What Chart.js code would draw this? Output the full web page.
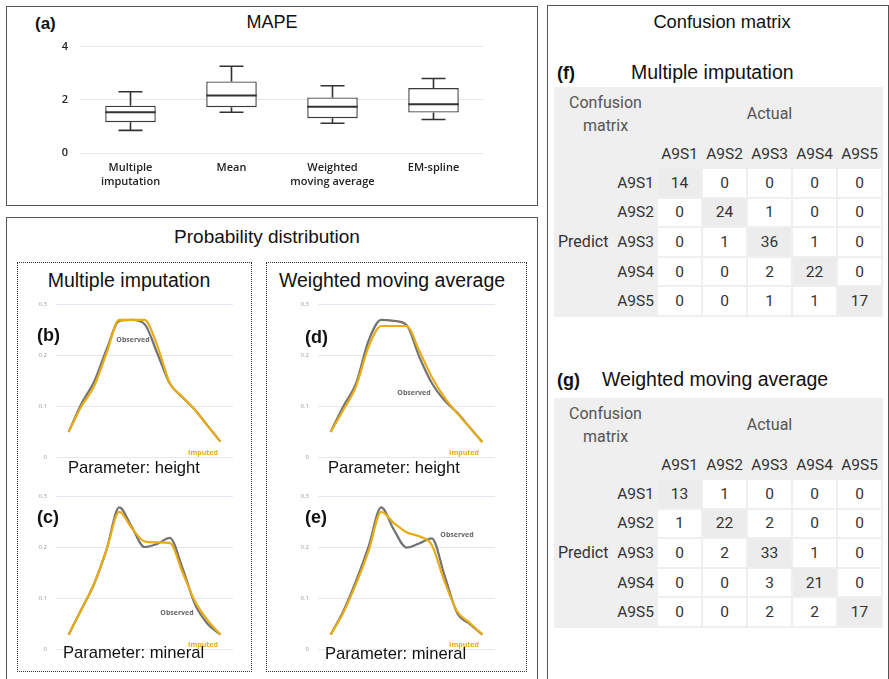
<!DOCTYPE html>
<html>
<head>
<meta charset="utf-8">
<script src="https://cdn.jsdelivr.net/npm/chart.js@4.4.1/dist/chart.umd.min.js"></script>
<style>
  html, body { margin: 0; padding: 0; background: #fff; }
  body { width: 889px; height: 679px; position: relative; overflow: hidden; font-family: "Liberation Sans", Arial, sans-serif; color: #111; }
  .panel { position: absolute; border: 1.5px solid #555; box-sizing: border-box; }
  .dotted { position: absolute; border: 1px dotted #333; box-sizing: border-box; }
  .t { position: absolute; white-space: nowrap; line-height: 1; }
  .c { transform: translate(-50%, -50%); }
  .l { transform: translateY(-50%); }
  .b { font-weight: bold; }
  canvas { position: absolute; }
  .lbl { position: absolute; white-space: nowrap; font-family: "Open Sans", sans-serif; font-weight: 700; font-size: 7px; transform: translate(-50%, -50%); }
  .obs { color: #666; }
  .imp { color: #e6aa14; }
  table.cm { position: absolute; left: 554px; width: 328px; border-collapse: collapse; background: #efefef;
             font-family: Roboto, "Noto Sans", sans-serif; font-size: 15.5px; font-weight: 400; color: #333; table-layout: fixed; }
  table.cm td { padding: 0; text-align: center; }
  table.cm td.cell { background: #fff; border: 2px solid #efefef; }
  table.cm td.diag { background: #ececec; }
  table.cm td.rl { text-align: right; padding-right: 2px; }
  table.cm td.pr { text-align: left; padding-left: 4px; font-size: 16px; }
  table.cm td.hd { color: #555; line-height: 23px; font-size: 16px; }
</style>
</head>
<body>
<!-- panneaux -->
<div class="panel" style="left:6px;top:6px;width:532px;height:200px;"></div>
<div class="panel" style="left:6px;top:217px;width:532px;height:464px;"></div>
<div class="panel" style="left:547px;top:5px;width:342px;height:676px;"></div>
<div class="dotted" style="left:17px;top:262px;width:235px;height:410px;"></div>
<div class="dotted" style="left:266px;top:262px;width:261px;height:410px;"></div>

<!-- (a) MAPE -->
<div class="t b" style="left:35px;top:23px;font-size:17px;transform:translateY(-50%);">(a)</div>
<div class="t c" style="left:272px;top:22px;font-size:18px;">MAPE</div>
<canvas id="graphMape" width="450" height="165" style="left:40px;top:28px;width:450px;height:165px;"></canvas>

<!-- Probability distribution -->
<div class="t c" style="left:267px;top:236px;font-size:19px;">Probability distribution</div>
<div class="t c" style="left:129px;top:281px;font-size:19.5px;">Multiple imputation</div>
<div class="t c" style="left:392px;top:281px;font-size:19.5px;">Weighted moving average</div>

<canvas id="graphB" width="215" height="178" style="left:20px;top:292px;width:215px;height:178px;"></canvas>
<canvas id="graphD" width="215" height="178" style="left:282px;top:292px;width:215px;height:178px;"></canvas>
<canvas id="graphC" width="215" height="178" style="left:20px;top:484px;width:215px;height:178px;"></canvas>
<canvas id="graphE" width="215" height="178" style="left:282px;top:484px;width:215px;height:178px;"></canvas>

<div class="t b l" style="left:37px;top:335px;font-size:18px;">(b)</div>
<div class="t b l" style="left:305px;top:337px;font-size:18px;">(d)</div>
<div class="t b l" style="left:37px;top:517px;font-size:18px;">(c)</div>
<div class="t b l" style="left:305px;top:517px;font-size:18px;">(e)</div>

<div class="lbl obs" style="left:133px;top:339px;">Observed</div>
<div class="lbl imp" style="left:203px;top:452px;">Imputed</div>
<div class="lbl obs" style="left:414px;top:392px;">Observed</div>
<div class="lbl imp" style="left:464px;top:452px;">Imputed</div>
<div class="lbl obs" style="left:177px;top:612px;">Observed</div>
<div class="lbl imp" style="left:203px;top:644px;">Imputed</div>
<div class="lbl obs" style="left:457px;top:534px;">Observed</div>
<div class="lbl imp" style="left:464px;top:644px;">Imputed</div>

<div class="t l" style="left:68px;top:468px;font-size:16.6px;">Parameter: height</div>
<div class="t l" style="left:328px;top:468px;font-size:16.6px;">Parameter: height</div>
<div class="t l" style="left:63px;top:653px;font-size:16.6px;">Parameter: mineral</div>
<div class="t l" style="left:325px;top:654px;font-size:16.6px;">Parameter: mineral</div>

<!-- Confusion matrix -->
<div class="t c" style="left:722px;top:22px;font-size:18.3px;">Confusion matrix</div>
<div class="t b l" style="left:557px;top:73px;font-size:18px;">(f)</div>
<div class="t l" style="left:631px;top:73px;font-size:19.5px;">Multiple imputation</div>
<div class="t b l" style="left:557px;top:380px;font-size:18px;">(g)</div>
<div class="t l" style="left:602px;top:380px;font-size:19.5px;">Weighted moving average</div>

<table class="cm" id="tableMI" style="top:87px;"></table>
<table class="cm" id="tableWMA" style="top:398px;"></table>

<script>
// ============================================
// Donnees
// ============================================
var methodes = [["Multiple", "imputation"], "Mean", ["Weighted", "moving average"], "EM-spline"];
var mapeMin = [0.85, 1.53, 1.12, 1.26];
var mapeQ1 = [1.16, 1.72, 1.31, 1.52];
var mapeMed = [1.53, 2.16, 1.74, 1.83];
var mapeQ3 = [1.78, 2.69, 2.09, 2.44];
var mapeMax = [2.30, 3.26, 2.53, 2.80];

// Densites (13 points, meme axe x)
var hauteurObsMI = [0.05, 0.105, 0.148, 0.212, 0.268, 0.27, 0.262, 0.205, 0.145, 0.118, 0.093, 0.062, 0.031];
var hauteurImpMI = [0.05, 0.10, 0.139, 0.205, 0.27, 0.27, 0.27, 0.22, 0.146, 0.119, 0.093, 0.062, 0.031];
var hauteurObsWMA = [0.05, 0.10, 0.145, 0.229, 0.27, 0.268, 0.26, 0.198, 0.146, 0.112, 0.088, 0.059, 0.03];
var hauteurImpWMA = [0.05, 0.093, 0.139, 0.217, 0.258, 0.258, 0.258, 0.21, 0.158, 0.118, 0.087, 0.059, 0.03];
var mineralObsMI = [0.029, 0.078, 0.128, 0.196, 0.279, 0.24, 0.201, 0.207, 0.219, 0.16, 0.088, 0.05, 0.029];
var mineralImpMI = [0.029, 0.078, 0.128, 0.196, 0.27, 0.238, 0.212, 0.21, 0.209, 0.152, 0.094, 0.057, 0.029];
var mineralObsWMA = [0.029, 0.075, 0.134, 0.202, 0.279, 0.235, 0.2, 0.208, 0.218, 0.146, 0.072, 0.05, 0.029];
var mineralImpWMA = [0.029, 0.072, 0.128, 0.193, 0.27, 0.248, 0.23, 0.222, 0.205, 0.134, 0.075, 0.052, 0.029];
var densiteTicks = [0, 0.1, 0.2, 0.3];

// Matrices de confusion
var classes = ["A9S1", "A9S2", "A9S3", "A9S4", "A9S5"];
var confusionMI = [
    [14, 0, 0, 0, 0],
    [0, 24, 1, 0, 0],
    [0, 1, 36, 1, 0],
    [0, 0, 2, 22, 0],
    [0, 0, 1, 1, 17]
];
var confusionWMA = [
    [13, 1, 0, 0, 0],
    [1, 22, 2, 0, 0],
    [0, 2, 33, 1, 0],
    [0, 0, 3, 21, 0],
    [0, 0, 2, 2, 17]
];

// ============================================
// Boxplot MAPE
// ============================================
var moustaches = {
    id: "moustaches",
    afterDatasetsDraw: function (chart) {
        var ctx = chart.ctx;
        var y = chart.scales.y;
        var meta = chart.getDatasetMeta(0);
        ctx.save();
        ctx.strokeStyle = "#333";
        meta.data.forEach(function (bar, i) {
            var x = bar.x;
            var demi = bar.width / 2;
            // mediane
            ctx.lineWidth = 2;
            ctx.beginPath();
            ctx.moveTo(x - demi, y.getPixelForValue(mapeMed[i]));
            ctx.lineTo(x + demi, y.getPixelForValue(mapeMed[i]));
            ctx.stroke();
            // moustaches
            ctx.lineWidth = 1.6;
            ctx.beginPath();
            ctx.moveTo(x, y.getPixelForValue(mapeQ3[i]));
            ctx.lineTo(x, y.getPixelForValue(mapeMax[i]));
            ctx.moveTo(x - 12, y.getPixelForValue(mapeMax[i]));
            ctx.lineTo(x + 12, y.getPixelForValue(mapeMax[i]));
            ctx.moveTo(x, y.getPixelForValue(mapeQ1[i]));
            ctx.lineTo(x, y.getPixelForValue(mapeMin[i]));
            ctx.moveTo(x - 12, y.getPixelForValue(mapeMin[i]));
            ctx.lineTo(x + 12, y.getPixelForValue(mapeMin[i]));
            ctx.stroke();
        });
        ctx.restore();
    }
};

new Chart(document.getElementById("graphMape"), {
    type: "bar",
    data: {
        labels: methodes,
        datasets: [{
            data: mapeQ1.map(function (q, i) { return [q, mapeQ3[i]]; }),
            backgroundColor: "#fff",
            borderColor: "#3a3a3a",
            borderWidth: 1.4,
            borderSkipped: false,
            barPercentage: 0.5,
            categoryPercentage: 1
        }]
    },
    options: {
        responsive: false,
        animation: false,
        layout: { padding: { top: 0, right: 6 } },
        plugins: { legend: { display: false }, tooltip: { enabled: false } },
        scales: {
            x: {
                grid: { display: false },
                border: { display: false },
                ticks: { color: "#222", padding: 0, font: { family: "Open Sans", size: 11, weight: 600, lineHeight: 1.25 } },
                afterFit: function (s) { s.height = 40; }
            },
            y: {
                min: 0, max: 4,
                grid: { color: "#e8e8ee", drawTicks: false },
                border: { display: false },
                ticks: { stepSize: 2, color: "#222", padding: 12, font: { family: "Open Sans", size: 11, weight: 600 } },
                afterFit: function (s) { s.width = 40; }
            }
        }
    },
    plugins: [moustaches]
});

// ============================================
// Courbes de densite
// ============================================
function points(valeurs) {
    return valeurs.map(function (v, i) { return { x: i, y: v }; });
}

function graphDensite(id, observe, impute) {
    new Chart(document.getElementById(id), {
        type: "line",
        data: {
            datasets: [
                {
                    label: "Imputed",
                    data: points(impute),
                    borderColor: "rgb(232, 172, 22)",
                    borderWidth: 2.2,
                    pointRadius: 0,
                    cubicInterpolationMode: "monotone"
                },
                {
                    label: "Observed",
                    data: points(observe),
                    borderColor: "rgb(115, 115, 115)",
                    borderWidth: 2.2,
                    pointRadius: 0,
                    cubicInterpolationMode: "monotone"
                }
            ]
        },
        options: {
            responsive: false,
            animation: false,
            layout: { padding: { top: 8, right: 2, bottom: 8 } },
            plugins: { legend: { display: false }, tooltip: { enabled: false } },
            scales: {
                x: { type: "linear", min: -1, max: 13, display: false },
                y: {
                    min: 0, max: 0.3,
                    afterBuildTicks: function (s) { s.ticks = densiteTicks.map(function (v) { return { value: v }; }); },
                    grid: { color: "#e6e6f0", drawTicks: false },
                    border: { display: false },
                    ticks: { color: "#999", padding: 9, font: { family: "Open Sans", size: 6 } },
                    afterFit: function (s) { s.width = 36; }
                }
            }
        }
    });
}

graphDensite("graphB", hauteurObsMI, hauteurImpMI);
graphDensite("graphD", hauteurObsWMA, hauteurImpWMA);
graphDensite("graphC", mineralObsMI, mineralImpMI);
graphDensite("graphE", mineralObsWMA, mineralImpWMA);

// ============================================
// Tableaux : matrices de confusion
// ============================================
function remplirTableau(id, matrice) {
    var html = "<colgroup><col style='width:58px'><col style='width:45px'>" +
        "<col style='width:45px'><col style='width:45px'><col style='width:45px'><col style='width:45px'><col style='width:45px'></colgroup>";
    html += "<tr style='height:53px'><td class='hd' colspan='2'>Confusion<br>matrix</td><td class='hd' colspan='5'>Actual</td></tr>";
    html += "<tr style='height:28px'><td></td><td></td>";
    classes.forEach(function (c) { html += "<td>" + c + "</td>"; });
    html += "</tr>";
    matrice.forEach(function (ligne, r) {
        html += "<tr style='height:29.6px'><td class='pr'>" + (r === 2 ? "Predict" : "") + "</td>";
        html += "<td class='rl'>" + classes[r] + "</td>";
        ligne.forEach(function (v, c) {
            html += "<td class='cell" + (r === c ? " diag" : "") + "'>" + v + "</td>";
        });
        html += "</tr>";
    });
    document.getElementById(id).innerHTML = html;
}

remplirTableau("tableMI", confusionMI);
remplirTableau("tableWMA", confusionWMA);
</script>
</body>
</html>
